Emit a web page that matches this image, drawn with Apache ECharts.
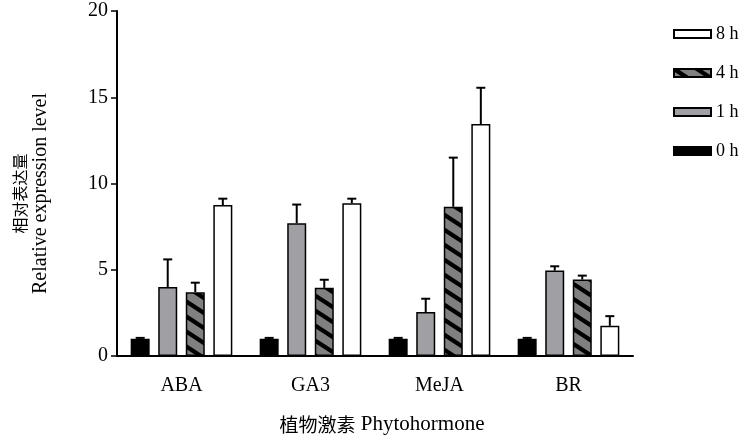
<!DOCTYPE html>
<html><head><meta charset="utf-8">
<script src="https://cdn.jsdelivr.net/npm/echarts@6/dist/echarts.min.js"></script>
<style>html,body{margin:0;padding:0;background:#fff}#c{width:742px;height:444px}</style>
</head><body><div id="c"></div>
<script>
var categories = ['ABA', 'GA3', 'MeJA', 'BR'];
var seriesNames = ['0 h', '1 h', '4 h', '8 h'];
var mean0h = [1.0, 1.0, 1.0, 1.0];
var err0h = [0.05, 0.05, 0.05, 0.05];
var mean1h = [4.0, 7.7, 2.55, 4.95];
var err1h = [1.6, 1.08, 0.77, 0.25];
var mean4h = [3.7, 3.95, 8.65, 4.43];
var err4h = [0.55, 0.47, 2.85, 0.23];
var mean8h = [8.75, 8.85, 13.45, 1.75];
var err8h = [0.37, 0.27, 2.1, 0.56];
var yTicks = [0, 5, 10, 15, 20];

var FONT = '"Liberation Serif", "Noto Sans CJK SC", serif';
var CJK = '"Noto Sans CJK SC", sans-serif';
var BAR_W = 19, BAR_GAP = 0.45;

function hatch() {
  var w = 23, h = 15, c = document.createElement('canvas');
  c.width = w; c.height = h;
  var g = c.getContext('2d');
  g.fillStyle = '#808080'; g.fillRect(0, 0, w, h);
  g.strokeStyle = '#000'; g.lineWidth = 4.3;
  g.beginPath();
  for (var k = -1; k <= 1; k++) {
    g.moveTo(-w, -h + k * h); g.lineTo(2 * w, 2 * h + k * h);
  }
  g.stroke();
  return {image: c, repeat: 'repeat'};
}

var means = [mean0h, mean1h, mean4h, mean8h];
var errs = [err0h, err1h, err4h, err8h];
var fills = ['#000000', '#a0a0a4', hatch(), '#ffffff'];

var series = [];
seriesNames.forEach(function (n, i) {
  series.push({
    name: n, type: 'bar', data: means[i], barWidth: BAR_W, barGap: (BAR_GAP * 100) + '%',
    itemStyle: {color: fills[i], borderColor: '#000', borderWidth: 1.5},
    z: 2
  });
});
seriesNames.forEach(function (n, i) {
  var d = categories.map(function (c, k) { return [k, means[i][k], errs[i][k]]; });
  series.push({
    type: 'custom', data: d, z: 1, silent: true,
    renderItem: function (params, api) {
      var k = api.value(0), m = api.value(1), e = api.value(2);
      var base = api.coord([k, m]);
      var top = api.coord([k, m + e]);
      var step = BAR_W * (1 + BAR_GAP);
      var x = base[0] + (i - 1.5) * step;
      var cap = 4.5;
      return {
        type: 'group',
        children: [
          {type: 'line', shape: {x1: x, y1: base[1], x2: x, y2: top[1]}, style: {stroke: '#000', lineWidth: 2}},
          {type: 'line', shape: {x1: x - cap, y1: top[1], x2: x + cap, y2: top[1]}, style: {stroke: '#000', lineWidth: 2}}
        ]
      };
    }
  });
});

var chart = echarts.init(document.getElementById('c'));
chart.setOption({
  animation: false,
  backgroundColor: '#fff',
  grid: {left: 117, right: 109, top: 11, bottom: 88, containLabel: false},
  legend: {
    data: ['8 h', '4 h', '1 h', '0 h'],
    orient: 'vertical', left: 668, top: 20,
    itemWidth: 37, itemHeight: 8, itemGap: 21,
    icon: 'rect',
    textStyle: {fontFamily: FONT, fontSize: 18, color: '#000'},
    selectedMode: false
  },
  xAxis: {
    type: 'category', data: categories,
    axisLine: {lineStyle: {color: '#000', width: 2}},
    axisTick: {alignWithLabel: true, length: 6, lineStyle: {color: '#000', width: 1.5}},
    axisLabel: {fontFamily: FONT, fontSize: 20, color: '#000', margin: 20},
    name: '{cn|植物激素} {en|Phytohormone}', nameLocation: 'middle', nameGap: 58,
    nameTextStyle: {fontFamily: FONT, fontSize: 21, color: '#000', padding: [0, 0, 0, 14],
      rich: {cn: {fontFamily: CJK, fontSize: 19, color: '#000'}, en: {fontFamily: FONT, fontSize: 21, color: '#000'}}}
  },
  yAxis: {
    type: 'value', min: 0, max: 20, interval: 5,
    axisLine: {show: true, lineStyle: {color: '#000', width: 2}},
    axisTick: {show: true, length: 6, lineStyle: {color: '#000', width: 1.5}},
    splitLine: {show: false},
    axisLabel: {fontFamily: FONT, fontSize: 20, color: '#000', margin: 9,
      formatter: function (v) { return yTicks.indexOf(v) >= 0 ? String(v) : ''; }},
    name: '{cn|相对表达量}\n{en|Relative expression level}', nameLocation: 'middle', nameGap: 66, nameRotate: 90,
    nameTextStyle: {fontFamily: FONT, fontSize: 20, color: '#000', padding: [0, 20, 0, 0],
      rich: {cn: {fontFamily: CJK, fontSize: 16, color: '#000', lineHeight: 21}, en: {fontFamily: FONT, fontSize: 20, color: '#000', lineHeight: 21}}}
  },
  series: series
});
</script></body></html>
